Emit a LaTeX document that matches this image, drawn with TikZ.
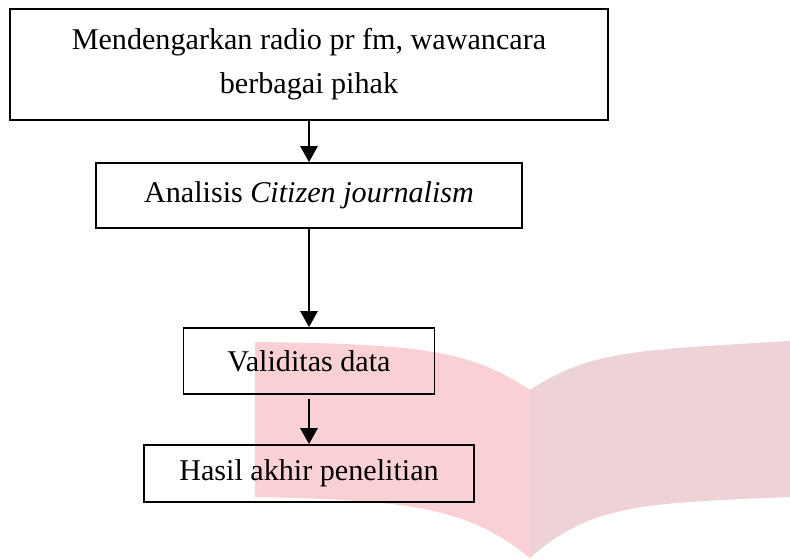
\documentclass[tikz,border=0pt]{standalone}
\usepackage{fontspec}
\setmainfont{Liberation Serif}
\usepackage{tikz}
\usetikzlibrary{positioning,arrows.meta}
\definecolor{pageLeft}{RGB}{249, 208, 211}
\definecolor{pageRight}{RGB}{238, 211, 214}

\tikzset{
  flowBox/.style={draw,line width=1.4pt,inner sep=0pt,align=center,
    font=\fontsize{22.6}{33}\selectfont},
  flowArrow/.style={-{Triangle[width=13pt,length=12pt]},line width=1.5pt},
}

\begin{document}
\begin{tikzpicture}[x=0.75pt,y=-0.75pt]
  \useasboundingbox (0,0) rectangle (790,558);
  % watermark in the background
  \fill[pageLeft] (255,342) .. controls (420,344) and (470,350) .. (530,390)
    -- (530,558) .. controls (470,510) and (420,500) .. (255,497) -- cycle;
  \fill[pageRight] (530,390) .. controls (590,350) and (640,350) .. (790,341)
    -- (790,497) .. controls (640,503) and (590,505) .. (530,558) -- cycle;

  % steps
  \node[flowBox,minimum width=449pt,minimum height=83pt] (dengar) at (309,64.5)
    {Mendengarkan radio pr fm, wawancara\\berbagai pihak};
  \node[flowBox,minimum width=319.5pt,minimum height=48.75pt] (analisis) at (309,195.5)
    {Analisis \textit{Citizen journalism}};
  \node[flowBox,minimum width=188.25pt,minimum height=49.5pt] (validitas) at (309,361)
    {Validitas data};
  \node[flowBox,minimum width=247.5pt,minimum height=42.75pt] (hasil) at (309,473.5)
    {Hasil akhir penelitian};

  \draw[flowArrow] (dengar) -- (analisis);
  \draw[flowArrow] (analisis) -- (validitas);
  \draw[flowArrow,shorten <=3pt] (validitas) -- (hasil);
\end{tikzpicture}
\end{document}
